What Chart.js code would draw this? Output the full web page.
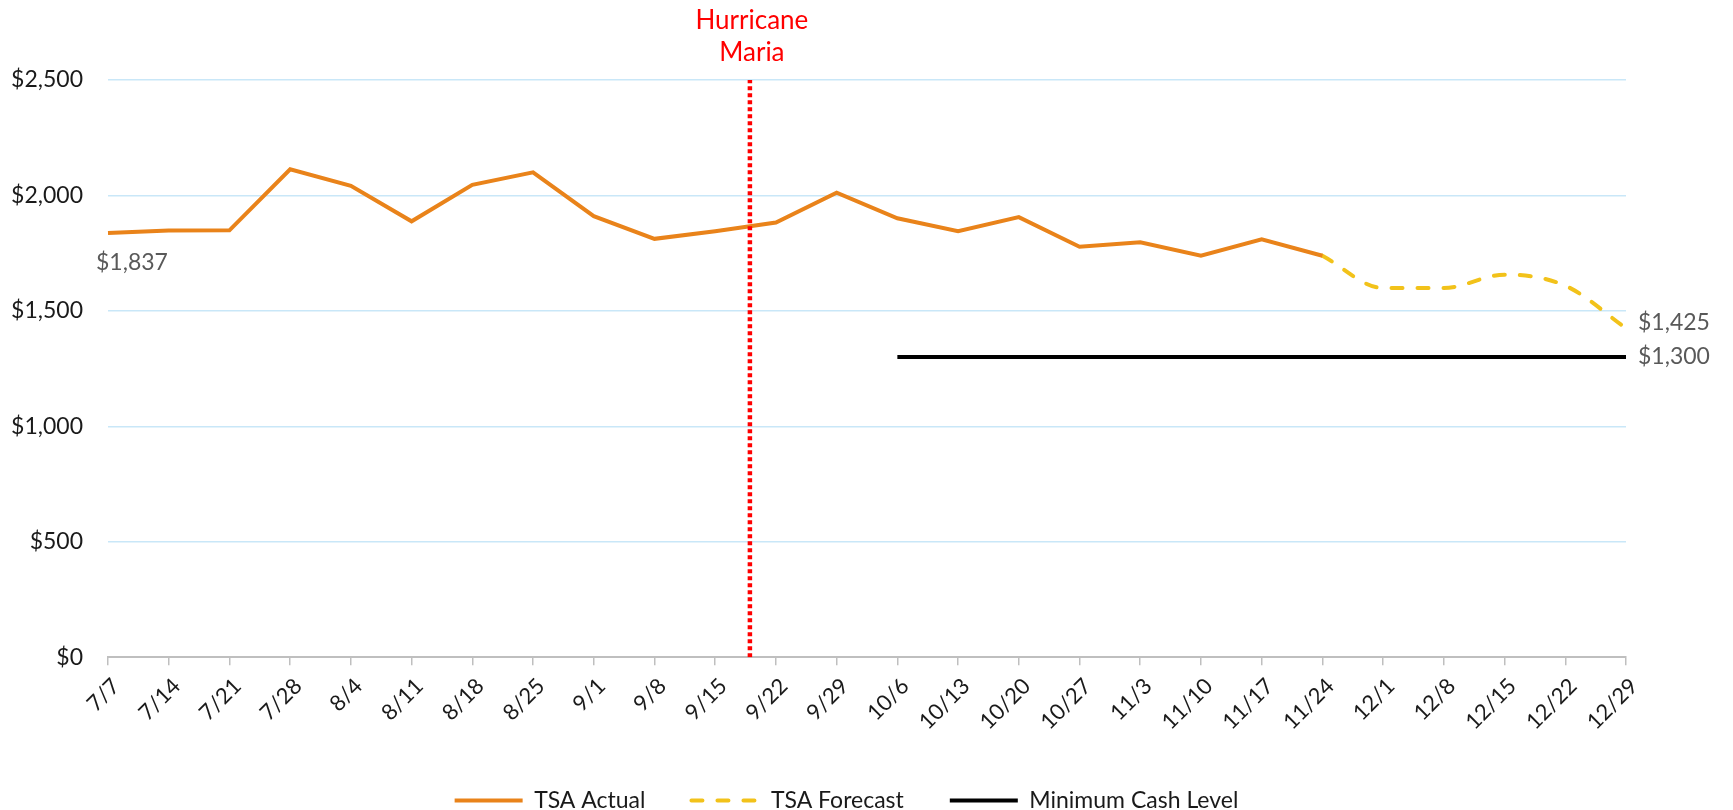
<!DOCTYPE html>
<html lang="en">
<head>
    <meta charset="UTF-8">
    <title>TSA Cash Balance</title>
    <script src="https://cdn.jsdelivr.net/npm/chart.js"></script>
    <style>
        html, body { margin: 0; padding: 0; background: #fff; }
        #wrap { width: 1733px; height: 810px; }
    </style>
</head>
<body>
    <div id="wrap"><canvas id="cashChart"></canvas></div>

    <script>
        // Weekly balances ($ millions)
        const weeks = ["7/7", "7/14", "7/21", "7/28", "8/4", "8/11", "8/18", "8/25", "9/1", "9/8",
                       "9/15", "9/22", "9/29", "10/6", "10/13", "10/20", "10/27", "11/3", "11/10", "11/17",
                       "11/24", "12/1", "12/8", "12/15", "12/22", "12/29"];
        const tsaActual = [1837, 1848, 1849, 2113, 2042, 1888, 2046, 2100, 1910, 1812,
                           1845, 1883, 2012, 1901, 1845, 1906, 1778, 1797, 1739, 1810,
                           1739, null, null, null, null, null];
        const tsaForecast = [null, null, null, null, null, null, null, null, null, null,
                             null, null, null, null, null, null, null, null, null, null,
                             1739, 1599, 1599, 1657, 1609, 1425];
        const minCash = [null, null, null, null, null, null, null, null, null, null,
                         null, null, null, 1300, 1300, 1300, 1300, 1300, 1300, 1300,
                         1300, 1300, 1300, 1300, 1300, 1300];
        const yTicks = [0, 500, 1000, 1500, 2000, 2500];
        // Hurricane Maria, Sept 19: 4 days after the 9/15 week
        const mariaWeek = 10 + 4 / 7;
        const mariaSpan = [0, 2500];
        const mariaLabel = ["Hurricane", "Maria"];

        const money = v => "$" + v.toLocaleString("en-US");

        Chart.defaults.font.family = "Lato";
        Chart.defaults.color = "#1a1a1a";

        // value labels next to first / last points + hurricane caption
        const valueLabels = {
            id: "valueLabels",
            afterDatasetsDraw(chart) {
                const ctx = chart.ctx;
                ctx.save();
                ctx.font = "23px Lato";
                ctx.fillStyle = "#595959";
                ctx.textBaseline = "middle";

                const first = chart.getDatasetMeta(0).data[0];
                ctx.textAlign = "left";
                ctx.fillText(money(tsaActual[0]), first.x - 12, first.y + 30);

                const lastF = chart.getDatasetMeta(1).data[weeks.length - 1];
                ctx.fillText(money(tsaForecast[weeks.length - 1]), lastF.x + 12, lastF.y - 6);

                const lastM = chart.getDatasetMeta(2).data[weeks.length - 1];
                ctx.fillText(money(minCash[weeks.length - 1]), lastM.x + 12, lastM.y);

                const mx = chart.scales.xm.getPixelForValue(mariaWeek);
                ctx.font = "26px Lato";
                ctx.fillStyle = "#FF0000";
                ctx.textAlign = "center";
                ctx.fillText(mariaLabel[0], mx + 2, 21);
                ctx.fillText(mariaLabel[1], mx + 2, 53);
                ctx.restore();
            }
        };

        new Chart(document.getElementById("cashChart"), {
            type: "line",
            data: {
                labels: weeks,
                datasets: [
                    {
                        label: "TSA Actual",
                        data: tsaActual,
                        borderColor: "#E9831A",
                        backgroundColor: "#E9831A",
                        borderWidth: 4,
                        pointRadius: 0,
                        pointStyle: "line",
                        tension: 0,
                        order: 1
                    },
                    {
                        label: "TSA Forecast",
                        data: tsaForecast,
                        borderColor: "#F2C21A",
                        backgroundColor: "#F2C21A",
                        borderWidth: 4,
                        borderDash: [11, 15],
                        borderCapStyle: "round",
                        pointRadius: 0,
                        pointStyle: "line",
                        cubicInterpolationMode: "monotone",
                        order: 2
                    },
                    {
                        label: "Minimum Cash Level",
                        data: minCash,
                        borderColor: "#000000",
                        backgroundColor: "#000000",
                        borderWidth: 4,
                        pointRadius: 0,
                        pointStyle: "line",
                        order: 3
                    },
                    {
                        label: "Hurricane Maria",
                        data: mariaSpan.map(v => ({ x: mariaWeek, y: v })),
                        xAxisID: "xm",
                        borderColor: "#FF0000",
                        borderWidth: 4.5,
                        borderDash: [4, 3],
                        pointRadius: 0,
                        order: 0
                    }
                ]
            },
            options: {
                responsive: true,
                maintainAspectRatio: false,
                animation: false,
                layout: { padding: { left: 0, right: 40, top: 80, bottom: -12 } },
                scales: {
                    x: {
                        type: "category",
                        offset: false,
                        grid: { drawOnChartArea: false, drawTicks: true, tickLength: 8, color: "#BFBFBF", lineWidth: 1.5 },
                        border: { color: "#BFBFBF", width: 2 },
                        ticks: {
                            autoSkip: false,
                            maxRotation: 45,
                            minRotation: 45,
                            padding: 8,
                            labelOffset: 8,
                            font: { size: 22 },
                            color: "#1a1a1a"
                        }
                    },
                    xm: {
                        type: "linear",
                        display: false,
                        min: 0,
                        max: weeks.length - 1
                    },
                    y: {
                        min: yTicks[0],
                        max: yTicks[yTicks.length - 1],
                        afterFit: s => { s.width = 108; },
                        afterBuildTicks: s => { s.ticks = yTicks.map(v => ({ value: v })); },
                        grid: { color: "#C9E7F8", lineWidth: 1.5, drawTicks: false },
                        border: { display: false },
                        ticks: {
                            padding: 25,
                            font: { size: 23 },
                            color: "#1a1a1a",
                            callback: v => money(v)
                        }
                    },
                    yRight: {
                        position: "right",
                        afterFit: s => { s.width = 67; },
                        grid: { display: false },
                        border: { display: false },
                        ticks: { display: false }
                    }
                },
                plugins: {
                    tooltip: { enabled: false },
                    legend: {
                        position: "bottom",
                        labels: {
                            usePointStyle: true,
                            pointStyleWidth: 68,
                            padding: 46,
                            font: { size: 23 },
                            color: "#1a1a1a",
                            filter: item => item.datasetIndex < 3,
                            generateLabels: chart =>
                                Chart.defaults.plugins.legend.labels.generateLabels(chart).map(item => {
                                    const ds = chart.data.datasets[item.datasetIndex];
                                    item.lineDash = ds.borderDash || [];
                                    item.lineCap = ds.borderCapStyle || "butt";
                                    item.lineWidth = ds.borderWidth;
                                    return item;
                                })
                        }
                    }
                }
            },
            plugins: [valueLabels]
        });
    </script>
</body>
</html>
